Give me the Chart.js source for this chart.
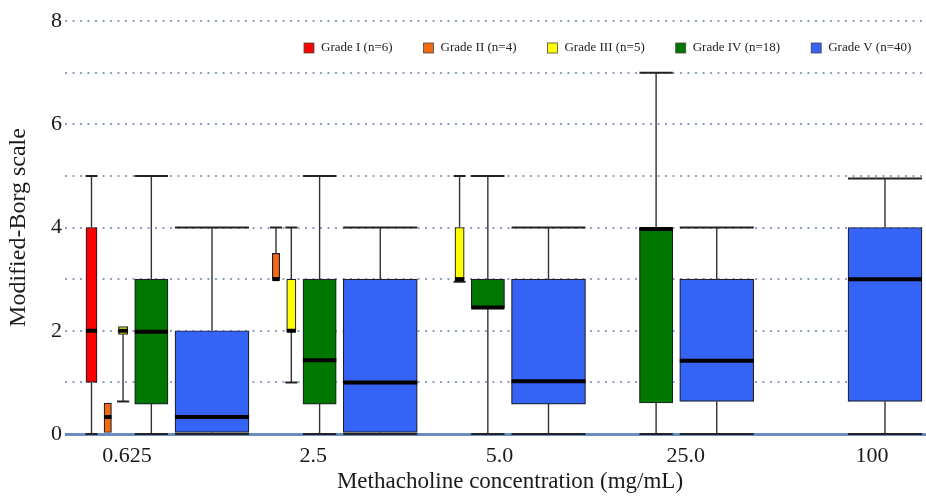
<!DOCTYPE html>
<html>
<head>
<meta charset="utf-8">
<title>Modified-Borg scale by methacholine concentration</title>
<script src="https://cdn.jsdelivr.net/npm/chart.js"></script>
<style>
  html, body { margin: 0; padding: 0; background: #fff; }
</style>
</head>
<body>
<canvas id="borgChart" width="926" height="497"></canvas>
<script>
  // concentrations (x categories)
  const categories = ["0.625", "2.5", "5.0", "25.0", "100"];
  const gradeNames = ["Grade I", "Grade II", "Grade III", "Grade IV", "Grade V"];
  const gradeN = [6, 4, 5, 18, 40];
  const yTicks = [0, 2, 4, 6, 8];

  // [min, q1, median, q3, max] for each concentration, null = no box
  const gradeI = [[0, 1, 2, 4, 5], null, null, null, null];
  const gradeII = [[0, 0, 0.33, 0.6, 0.6], [3, 3, 3, 3.5, 4], null, null, null];
  const gradeIII = [[0.63, 1.93, 2, 2.08, 2.08], [1, 2, 2, 3, 4], [2.95, 3, 3, 4, 5], null, null];
  const gradeIV = [[0, 0.58, 1.98, 3, 5], [0, 0.58, 1.43, 3, 5], [0, 2.45, 2.45, 3, 5], [0, 0.6, 3.97, 4, 7], null];
  const gradeV = [[0, 0.03, 0.33, 2, 4], [0, 0.03, 1, 3, 4], [0, 0.58, 1.02, 3, 4], [0, 0.63, 1.42, 3, 4], [0, 0.63, 3, 4, 4.95]];

  const series = [gradeI, gradeII, gradeIII, gradeIV, gradeV];
  const colors = ["#ff0000", "#f2690f", "#ffff00", "#007800", "#3563f5"];

  // layout: boxes are packed right-to-left in each group, width ~ n
  const PLOT_W = 861;
  const GROUP_END = 184;
  const GROUP_PITCH = 168.25;
  const TICK_START = 62;
  const TICK_PITCH = 186.25;
  const PX_PER_N = 1.85;
  const GAP = 7;
  const SERIF = "'Liberation Serif', 'Times New Roman', serif";
  const X_TITLE = "Methacholine concentration (mg/mL)";

  const boxX = series.map(() => []);
  categories.forEach((c, ci) => {
    let cursor = GROUP_END + ci * GROUP_PITCH;
    for (let g = series.length - 1; g >= 0; g--) {
      if (!series[g][ci]) continue;
      const w = gradeN[g] * PX_PER_N;
      boxX[g][ci] = cursor - w / 2;
      cursor -= w + GAP;
    }
  });

  const datasets = series.map((s, g) => ({
    label: gradeNames[g] + " (n=" + gradeN[g] + ")",
    data: s
      .map((st, ci) => (st ? { x: boxX[g][ci], y: [st[1], st[3]], cat: ci } : null))
      .filter(Boolean),
    backgroundColor: colors[g],
    borderColor: "#1e1e2a",
    borderWidth: 1.2,
    borderSkipped: false,
    grouped: false,
    barThickness: gradeN[g] * PX_PER_N,
  }));

  // whiskers, caps and medians
  const boxPlot = {
    id: "boxPlot",
    afterDatasetsDraw(chart) {
      const ctx = chart.ctx;
      const y = chart.scales.y;
      chart.data.datasets.forEach((ds, g) => {
        const meta = chart.getDatasetMeta(g);
        meta.data.forEach((bar, i) => {
          const st = series[g][ds.data[i].cat];
          const [mn, q1, md, q3, mx] = st.map((v) => y.getPixelForValue(v));
          const half = bar.width / 2;
          const cap = Math.max(half, 6);
          ctx.save();
          ctx.strokeStyle = "#333";
          ctx.lineWidth = 1.4;
          ctx.beginPath();
          if (mx < q3 - 0.5) {
            ctx.moveTo(bar.x, q3);
            ctx.lineTo(bar.x, mx);
          }
          if (mn > q1 + 0.5) {
            ctx.moveTo(bar.x, q1);
            ctx.lineTo(bar.x, mn);
          }
          ctx.stroke();
          ctx.lineWidth = 2;
          ctx.strokeStyle = "#222";
          ctx.beginPath();
          if (mx < q3 - 0.5) {
            ctx.moveTo(bar.x - cap, mx);
            ctx.lineTo(bar.x + cap, mx);
          }
          if (mn > q1 + 0.5) {
            ctx.moveTo(bar.x - cap, mn);
            ctx.lineTo(bar.x + cap, mn);
          }
          ctx.stroke();
          ctx.strokeStyle = "#000";
          ctx.lineWidth = 4;
          ctx.beginPath();
          ctx.moveTo(bar.x - half, md);
          ctx.lineTo(bar.x + half, md);
          ctx.stroke();
          ctx.restore();
        });
      });
    },
  };

  // legend inside the plot (top right) and the x-axis title
  const extras = {
    id: "extras",
    afterDraw(chart) {
      const ctx = chart.ctx;
      ctx.save();
      ctx.font = "13px " + SERIF;
      ctx.textBaseline = "middle";
      let x = 304;
      const yMid = 48;
      chart.data.datasets.forEach((ds) => {
        ctx.fillStyle = ds.backgroundColor;
        ctx.fillRect(x, yMid - 5, 10, 10);
        ctx.strokeStyle = "#444";
        ctx.lineWidth = 0.8;
        ctx.strokeRect(x, yMid - 5, 10, 10);
        ctx.fillStyle = "#222";
        ctx.fillText(ds.label, x + 17, yMid);
        x += 17 + ctx.measureText(ds.label).width + 31;
      });
      ctx.font = "23px " + SERIF;
      ctx.textAlign = "center";
      ctx.fillStyle = "#1a1a1a";
      ctx.fillText(X_TITLE, 510, 482);
      ctx.restore();
    },
  };

  new Chart(document.getElementById("borgChart"), {
    type: "bar",
    data: { datasets },
    options: {
      responsive: false,
      animation: false,
      layout: { padding: { top: 21, left: 0, right: 0, bottom: 0 } },
      plugins: { legend: { display: false }, tooltip: { enabled: false } },
      scales: {
        x: {
          type: "linear",
          min: 0,
          max: PLOT_W,
          offset: false,
          afterBuildTicks: (scale) => {
            scale.ticks = categories.map((c, i) => ({ value: TICK_START + i * TICK_PITCH }));
          },
          afterFit: (scale) => { scale.height = 63; },
          grid: { display: false, drawTicks: false },
          border: { display: false },
          ticks: {
            autoSkip: false,
            maxRotation: 0,
            padding: 9,
            color: "#1a1a1a",
            font: { family: SERIF, size: 22 },
            callback: (v, i) => categories[i],
          },
          title: { display: false, text: X_TITLE },
        },
        y: {
          min: 0,
          max: 8,
          stacked: false,
          afterFit: (scale) => { scale.width = 65; },
          ticks: {
            stepSize: 1,
            padding: 3,
            color: "#1a1a1a",
            font: { family: SERIF, size: 22 },
            callback: (v) => (yTicks.includes(v) ? v : ""),
          },
          grid: {
            drawTicks: false,
            color: (c) => (c.tick && c.tick.value === 0 ? "#6b8cc0" : "#8ea1bf"),
            lineWidth: (c) => (c.tick && c.tick.value === 0 ? 3 : 2),
          },
          border: {
            display: false,
            dash: (c) => (c.tick && c.tick.value === 0 ? [] : [2, 5.5]),
          },
          title: {
            display: true,
            text: "Modified-Borg scale",
            color: "#1a1a1a",
            font: { family: SERIF, size: 24 },
            padding: { top: 4, bottom: 0 },
          },
        },
      },
    },
    plugins: [boxPlot, extras],
  });
</script>
</body>
</html>
